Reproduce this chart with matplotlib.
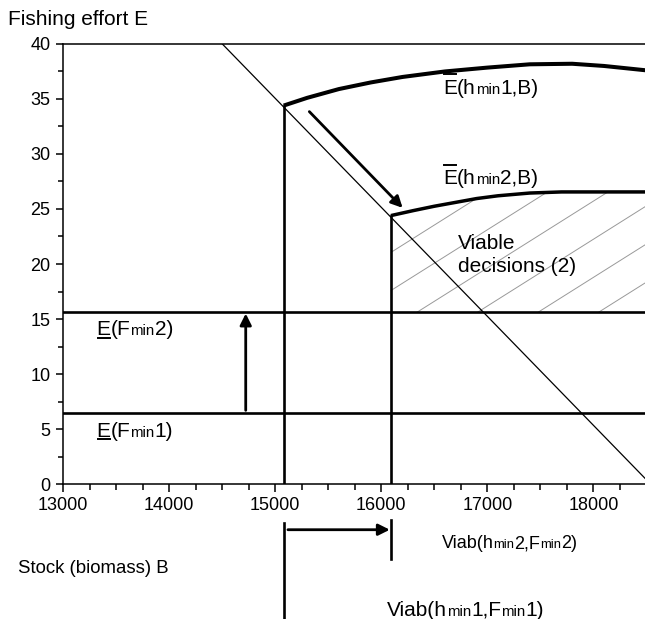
import numpy as np
import matplotlib
matplotlib.use('Agg')
import matplotlib.pyplot as plt
from matplotlib.offsetbox import TextArea, HPacker, AnnotationBbox
from matplotlib.patches import Polygon
from matplotlib.lines import Line2D
from matplotlib.transforms import IdentityTransform

FONT = ['Liberation Sans', 'DejaVu Sans']
plt.rcParams['font.family'] = FONT

# curve E_bar(hmin1, B)
b_h1 = [15079, 15300, 15600, 15900, 16200, 16600, 17000, 17400, 17800, 18100, 18500]
e_h1 = [34.4, 35.1, 35.9, 36.5, 37.0, 37.5, 37.85, 38.15, 38.2, 38.0, 37.6]
# curve E_bar(hmin2, B)
b_h2 = [16090, 16300, 16500, 16700, 16900, 17100, 17400, 17700, 18100, 18500]
e_h2 = [24.4, 24.85, 25.25, 25.6, 25.95, 26.2, 26.45, 26.55, 26.55, 26.55]
# lower effort bounds E(Fmin1), E(Fmin2)
e_fmin1 = 6.5
e_fmin2 = 15.6
# viability thresholds on B
b_viab1 = 15079
b_viab2 = 16090
# diagonal line end points
diag_b = [14500, 18540]
diag_e = [40, 0]
# arrows
arrow_diag = [(15321, 33.85), (16201, 25.1)]
arrow_up = [(14721, 6.7), (14721, 15.5)]
arrow_right = [(15119, -4.15), (16080, -4.15)]

xticks = [13000, 14000, 15000, 16000, 17000, 18000]
yticks = [0, 5, 10, 15, 20, 25, 30, 35, 40]

fig = plt.figure(figsize=(6.45, 6.19), dpi=100)
ax = fig.add_axes([0.0981, 0.218, 0.904, 0.711])
ax.set_xlim(13000, 18500)
ax.set_ylim(0, 40)

ax.spines['right'].set_visible(False)
for s in ['left', 'bottom', 'top']:
    ax.spines[s].set_linewidth(1.1)
ax.set_xticks(xticks)
ax.set_yticks(yticks)
ax.set_xticks(np.arange(13000, 18501, 250), minor=True)
ax.set_yticks(np.arange(0, 40.1, 2.5), minor=True)
ax.tick_params(axis='x', which='major', length=6, width=1.1, labelsize=13, pad=3)
ax.tick_params(axis='x', which='minor', length=4.3, width=1.1)
ax.tick_params(axis='y', which='major', length=5.3, width=1.1, labelsize=13, pad=4)
ax.tick_params(axis='y', which='minor', length=3.8, width=1.1)

# hatched viable region (2)
poly_b = [b_h2[0]] + b_h2 + [b_h2[-1]]
poly_e = [e_fmin2] + e_h2 + [e_fmin2]
region = Polygon(np.column_stack([poly_b, poly_e]), closed=True, facecolor='none', edgecolor='none')
ax.add_patch(region)
hatch_slope = 0.00607   # E per unit B, about 32 degrees on screen
hatch_step = 571
for b0 in np.arange(16334 - 4 * hatch_step, 18600, hatch_step):
    hb = np.array([b0, b0 + 2500])
    he = e_fmin2 + hatch_slope * (hb - b0)
    ln, = ax.plot(hb, he, color='#999999', lw=0.7)
    ln.set_clip_path(region)

# diagonal
ax.plot(diag_b, diag_e, color='black', lw=0.9)
# horizontal bounds
ax.axhline(e_fmin2, color='black', lw=1.9)
ax.axhline(e_fmin1, color='black', lw=1.9)
# curves
ax.plot(b_h1, e_h1, color='black', lw=2.9, solid_capstyle='butt')
ax.plot(b_h2, e_h2, color='black', lw=2.5, solid_capstyle='butt')
# vertical lines (inside the axes and below the axis)
ax.plot([b_viab1, b_viab1], [e_h1[0], 0], color='black', lw=1.9)
ax.plot([b_viab2, b_viab2], [e_h2[0], 0], color='black', lw=1.9)
ax.plot([b_viab1, b_viab1], [-3.55, -14], color='black', lw=1.9, clip_on=False)
ax.plot([b_viab2, b_viab2], [-3.3, -6.85], color='black', lw=1.9, clip_on=False)

arrowprops = dict(arrowstyle='-|>', color='black', lw=2, mutation_scale=17, shrinkA=0, shrinkB=0)
for start, end in [arrow_diag, arrow_up, arrow_right]:
    ax.annotate('', xy=end, xytext=start, arrowprops=arrowprops, annotation_clip=False)

# E letters that get a bar over (+1) or under (-1) them
barred = []


def rich_label(x, y, parts, size, coords='data', bar=0):
    kids = [TextArea(s, textprops=dict(size=size * k, family=FONT)) for s, k in parts]
    if bar:
        barred.append((kids[0], bar, size))
    box = HPacker(children=kids, align='baseline', pad=0, sep=0)
    ab = AnnotationBbox(box, (x, y), xycoords=coords, box_alignment=(0, 0),
                        frameon=False, pad=0, annotation_clip=False)
    ax.add_artist(ab)


small = 0.72
rich_label(16582, 35.1, [('E', 1), ('(h', 1), ('min', small), ('1,B)', 1)], 15, bar=1)
rich_label(16582, 26.9, [('E', 1), ('(h', 1), ('min', small), ('2,B)', 1)], 15, bar=1)
rich_label(13315, 13.15, [('E', 1), ('(F', 1), ('min', small), ('2)', 1)], 15, bar=-1)
rich_label(13315, 3.95, [('E', 1), ('(F', 1), ('min', small), ('1)', 1)], 15, bar=-1)
ax.text(16726, 19.25, 'Viable\ndecisions (2)', fontsize=15, ha='left', va='baseline', linespacing=1.27)

rich_label(441.7, 619 - 548.3 - 4, [('Viab(h', 1), ('min', small), ('2,F', 1), ('min', small), ('2)', 1)],
           13, coords='figure pixels')
rich_label(386.7, 619 - 615 - 4.5, [('Viab(h', 1), ('min', small), ('1,F', 1), ('min', small), ('1)', 1)],
           15, coords='figure pixels')

fig.text(8 / 645, 1 - 25 / 619, 'Fishing effort E', fontsize=15, va='baseline', ha='left')
fig.text(18.3 / 645, 1 - 572.7 / 619, 'Stock (biomass) B', fontsize=13.4, va='baseline', ha='left')

# overline / underline of E drawn as short lines once the text is laid out
fig.canvas.draw()
renderer = fig.canvas.get_renderer()
for kid, bar, size in barred:
    ext = kid.get_window_extent(renderer)
    base = ext.y0 - kid.get_bbox(renderer).y0
    em = size * fig.dpi / 72
    yb = base + 0.93 * em if bar > 0 else base - 0.13 * em
    fig.add_artist(Line2D([ext.x0 + 0.05 * em, ext.x0 + 0.64 * em], [yb, yb],
                          transform=IdentityTransform(), color='black', lw=1.4))

fig.savefig('out.png', dpi=100)
